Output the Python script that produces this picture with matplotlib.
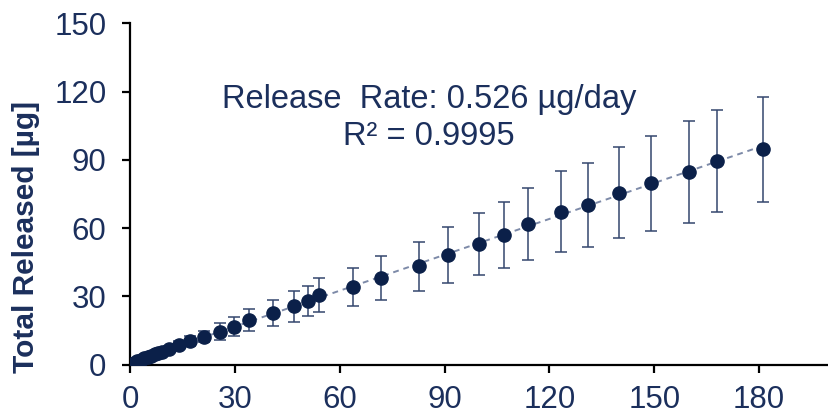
import numpy as np
import matplotlib
matplotlib.use("Agg")
import matplotlib.pyplot as plt

plt.rcParams['font.family'] = ['Liberation Sans', 'DejaVu Sans']

# Data
days = [1, 2, 3, 4, 5, 6, 7, 8, 9, 11, 14, 17, 21, 25.7, 29.8, 34.1, 40.8, 47, 50.8, 54,
        63.9, 71.9, 82.8, 91.1, 99.8, 107.1, 114, 123.2, 130.9, 140, 149, 160, 167.9, 181.1]
released = [0.8, 1.5, 2.1, 2.7, 3.3, 3.9, 4.5, 5.1, 5.7, 6.9, 8.6, 10.3, 12.2, 14.4, 16.6, 19.6,
            22.5, 25.7, 28.1, 30.6, 34.0, 38.1, 43.2, 48.2, 52.9, 57.0, 61.8, 67.2, 70.2,
            75.6, 79.7, 84.8, 89.5, 94.7]
errors = [0.3, 0.4, 0.5, 0.6, 0.7, 0.8, 0.9, 1.0, 1.1, 1.3, 1.8, 2.1, 2.4, 3.7, 4.1, 4.8,
          5.7, 6.8, 6.6, 7.5, 8.4, 9.5, 10.9, 12.5, 13.7, 14.4, 15.7, 17.7, 18.6,
          19.9, 20.9, 22.4, 22.4, 23.1]
slope = 0.526
r_squared = 0.9995
x_ticks = [0, 30, 60, 90, 120, 150, 180]
y_ticks = [0, 30, 60, 90, 120, 150]

navy = '#0b2049'
label_color = '#1b2f5c'

fig = plt.figure(figsize=(8.29, 4.19), dpi=100)
ax = fig.add_axes([0.157, 0.130, 0.843, 0.814])

# trend line (linear fit through data)
d = np.array(days)
r = np.array(released)
b = np.mean(r - slope * d)
xl = np.array([0, d.max()])
ax.plot(xl, slope * xl + b, linestyle=(0, (3, 2.5)), color='#7d8aa8', lw=1.4, zorder=1)

ax.errorbar(days, released, yerr=errors, fmt='o', color=navy, ms=9.5,
            ecolor='#34466e', elinewidth=1.1, capsize=4, capthick=1.1, zorder=3)

ax.set_xlim(0, 200)
ax.set_ylim(0, 150)
ax.set_xticks(x_ticks)
ax.set_yticks(y_ticks)
for s in ['top', 'right']:
    ax.spines[s].set_visible(False)
for s in ['left', 'bottom']:
    ax.spines[s].set_linewidth(1.6)
    ax.spines[s].set_color('black')
ax.tick_params(axis='both', direction='out', length=6, width=1.6, color='black',
               labelsize=22.5, labelcolor=label_color)
ax.tick_params(axis='y', pad=11)
ax.tick_params(axis='x', pad=9)

fig.text(26 / 829, 1 - 237 / 419, 'Total Released [µg]', rotation=90, ha='center',
         va='center', fontsize=21.5, fontweight='bold', color=label_color)

ax.text(0.428, 0.753, f'Release  Rate: {slope:.3f} µg/day', transform=ax.transAxes,
        ha='center', va='baseline', fontsize=23.5, color=label_color)
ax.text(0.428, 0.644, f'R² = {r_squared:.4f}', transform=ax.transAxes,
        ha='center', va='baseline', fontsize=23.5, color=label_color)

fig.savefig('out.png', dpi=100)
